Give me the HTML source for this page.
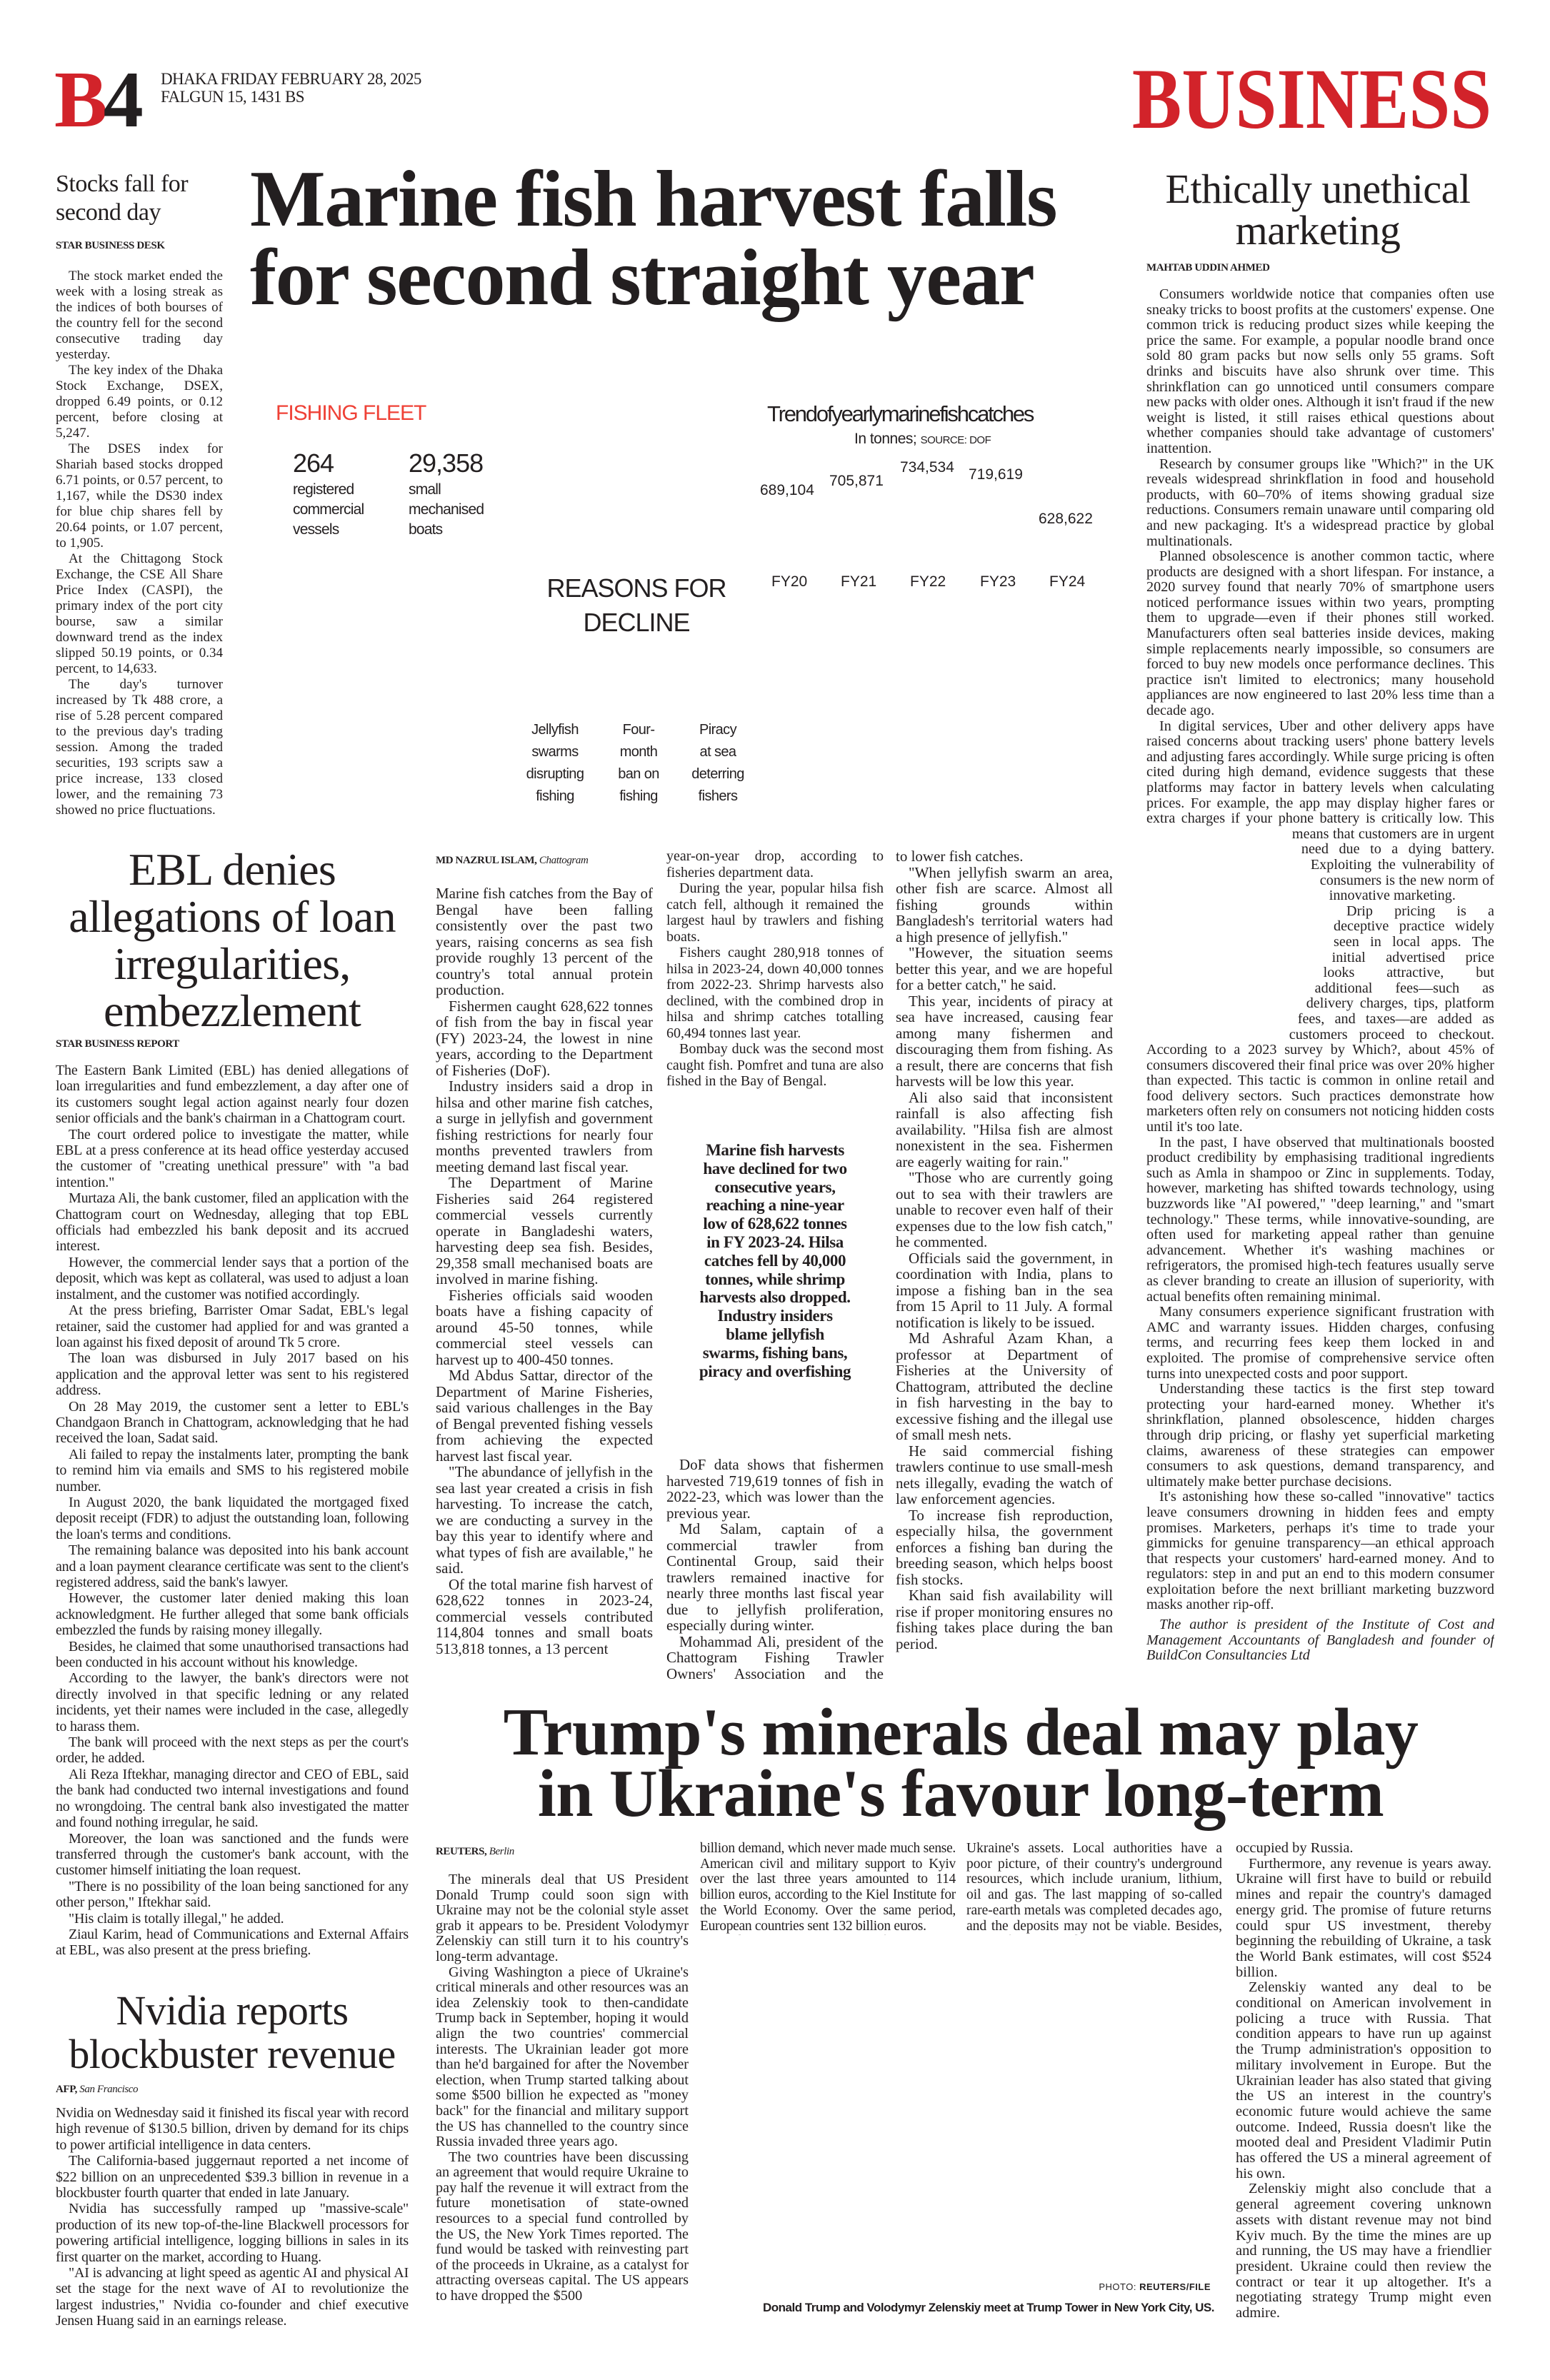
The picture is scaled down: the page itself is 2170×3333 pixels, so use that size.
<!DOCTYPE html>
<html lang="en"><head><meta charset="utf-8">
<style>
*{margin:0;padding:0;box-sizing:border-box}
html,body{width:2170px;height:3333px;background:#fff;overflow:hidden}
body{position:relative;color:#231f20;font-family:"Liberation Serif",serif}
.a{position:absolute}
.b{position:absolute;font:20px/22.5px "Liberation Serif",serif;text-align:justify;hyphens:auto;overflow:hidden;color:#231f20}
.b p{margin:0;text-indent:18px}
.m{font-size:21px}
.by{position:absolute;font:bold 15px/18px "Liberation Serif",serif;letter-spacing:-0.4px;white-space:nowrap}
.by i{font-weight:normal}
.s{font-family:"Liberation Sans",sans-serif;color:#231f20;white-space:nowrap;position:absolute}
</style></head><body>

<!-- header -->
<div class="a" style="left:76px;top:84px;font:bold 112px/1 'Liberation Serif',serif;letter-spacing:-6px;white-space:nowrap"><span style="color:#d2232a">B</span>4</div>
<div class="a" style="left:225px;top:98px;font:23px/25px 'Liberation Serif',serif;letter-spacing:-0.6px;white-space:nowrap">DHAKA FRIDAY FEBRUARY 28, 2025<br>FALGUN 15, 1431 BS</div>
<div class="a" style="right:82px;top:79px;font:bold 121px/1 'Liberation Serif',serif;color:#d2232a;transform:scaleX(0.86);transform-origin:right;white-space:nowrap">BUSINESS</div>

<!-- Stocks -->
<div class="a" style="left:78px;top:238px;font:34px/40px 'Liberation Serif',serif;letter-spacing:-0.5px;white-space:nowrap">Stocks fall for<br>second day</div>
<div class="by" style="left:78px;top:335px">STAR BUSINESS DESK</div>
<div class="b" style="left:78px;top:376px;width:234px;height:780px;font-size:19px;line-height:22px">
<p>The stock market ended the week with a losing streak as the indices of both bourses of the country fell for the second consecutive trading day yesterday.</p>
<p>The key index of the Dhaka Stock Exchange, DSEX, dropped 6.49 points, or 0.12 percent, before closing at 5,247.</p>
<p>The DSES index for Shariah based stocks dropped 6.71 points, or 0.57 percent, to 1,167, while the DS30 index for blue chip shares fell by 20.64 points, or 1.07 percent, to 1,905.</p>
<p>At the Chittagong Stock Exchange, the CSE All Share Price Index (CASPI), the primary index of the port city bourse, saw a similar downward trend as the index slipped 50.19 points, or 0.34 percent, to 14,633.</p>
<p>The day's turnover increased by Tk 488 crore, a rise of 5.28 percent compared to the previous day's trading session. Among the traded securities, 193 scripts saw a price increase, 133 closed lower, and the remaining 73 showed no price fluctuations.</p>
</div>

<!-- Marine headline -->
<div class="a" style="left:350px;top:224px;font:bold 112px/110px 'Liberation Serif',serif;letter-spacing:-1.5px;white-space:nowrap">Marine fish harvest falls<br>for second straight year</div>

<!-- infographic -->
<div class="s" style="left:386px;top:562px;font-size:30px;color:#ef4136;letter-spacing:-1px">FISHING FLEET</div>
<div class="s" style="left:410px;top:628px;font-size:36px;letter-spacing:-1px">264</div>
<div class="s" style="left:572px;top:628px;font-size:36px;letter-spacing:-1px">29,358</div>
<div class="s" style="left:410px;top:672px;font-size:21px;line-height:28px;letter-spacing:-0.8px">registered<br>commercial<br>vessels</div>
<div class="s" style="left:572px;top:672px;font-size:21px;line-height:28px;letter-spacing:-0.8px">small<br>mechanised<br>boats</div>
<div class="s" style="left:1074px;top:562px;font-size:31px;letter-spacing:-2.2px">Trendofyearlymarinefishcatches</div>
<div class="s" style="left:1196px;top:603px;font-size:21px;letter-spacing:-0.5px">In tonnes; <span style="font-size:15px">SOURCE: DOF</span></div>
<div class="s" style="left:1064px;top:675px;font-size:21px">689,104</div>
<div class="s" style="left:1161px;top:662px;font-size:21px">705,871</div>
<div class="s" style="left:1260px;top:643px;font-size:21px">734,534</div>
<div class="s" style="left:1356px;top:653px;font-size:21px">719,619</div>
<div class="s" style="left:1454px;top:715px;font-size:21px">628,622</div>
<div class="s" style="left:1080px;top:803px;font-size:21px">FY20</div>
<div class="s" style="left:1177px;top:803px;font-size:21px">FY21</div>
<div class="s" style="left:1274px;top:803px;font-size:21px">FY22</div>
<div class="s" style="left:1372px;top:803px;font-size:21px">FY23</div>
<div class="s" style="left:1469px;top:803px;font-size:21px">FY24</div>
<div class="s" style="left:741px;top:800px;width:300px;text-align:center;font-size:36px;line-height:48px;letter-spacing:-1px">REASONS FOR<br>DECLINE</div>
<div class="s" style="left:717px;top:1007px;width:120px;text-align:center;font-size:20px;line-height:31px;letter-spacing:-0.6px">Jellyfish<br>swarms<br>disrupting<br>fishing</div>
<div class="s" style="left:834px;top:1007px;width:120px;text-align:center;font-size:20px;line-height:31px;letter-spacing:-0.6px">Four-<br>month<br>ban on<br>fishing</div>
<div class="s" style="left:945px;top:1007px;width:120px;text-align:center;font-size:20px;line-height:31px;letter-spacing:-0.6px">Piracy<br>at sea<br>deterring<br>fishers</div>

<!-- Marine body -->
<div class="by" style="left:610px;top:1196px">MD NAZRUL ISLAM, <i>Chattogram</i></div>
<div class="b m" style="left:610px;top:1240px;width:304px;height:1115px">
<p style="text-indent:0">Marine fish catches from the Bay of Bengal have been falling consistently over the past two years, raising concerns as sea fish provide roughly 13 percent of the country's total annual protein production.</p>
<p>Fishermen caught 628,622 tonnes of fish from the bay in fiscal year (FY) 2023-24, the lowest in nine years, according to the Department of Fisheries (DoF).</p>
<p>Industry insiders said a drop in hilsa and other marine fish catches, a surge in jellyfish and government fishing restrictions for nearly four months prevented trawlers from meeting demand last fiscal year.</p>
<p>The Department of Marine Fisheries said 264 registered commercial vessels currently operate in Bangladeshi waters, harvesting deep sea fish. Besides, 29,358 small mechanised boats are involved in marine fishing.</p>
<p>Fisheries officials said wooden boats have a fishing capacity of around 45-50 tonnes, while commercial steel vessels can harvest up to 400-450 tonnes.</p>
<p>Md Abdus Sattar, director of the Department of Marine Fisheries, said various challenges in the Bay of Bengal prevented fishing vessels from achieving the expected harvest last fiscal year.</p>
<p>"The abundance of jellyfish in the sea last year created a crisis in fish harvesting. To increase the catch, we are conducting a survey in the bay this year to identify where and what types of fish are available," he said.</p>
<p>Of the total marine fish harvest of 628,622 tonnes in 2023-24, commercial vessels contributed 114,804 tonnes and small boats 513,818 tonnes, a 13 percent</p>
</div>
<div class="b" style="left:933px;top:1188px;width:304px;height:340px">
<p style="text-indent:0">year-on-year drop, according to fisheries department data.</p>
<p>During the year, popular hilsa fish catch fell, although it remained the largest haul by trawlers and fishing boats.</p>
<p>Fishers caught 280,918 tonnes of hilsa in 2023-24, down 40,000 tonnes from 2022-23. Shrimp harvests also declined, with the combined drop in hilsa and shrimp catches totalling 60,494 tonnes last year.</p>
<p>Bombay duck was the second most caught fish. Pomfret and tuna are also fished in the Bay of Bengal.</p>
</div>
<div class="a" style="left:945px;top:1598px;width:280px;text-align:center;font:bold 23px/25.8px 'Liberation Serif',serif;letter-spacing:-0.4px;white-space:nowrap">Marine fish harvests<br>have declined for two<br>consecutive years,<br>reaching a nine-year<br>low of 628,622 tonnes<br>in FY 2023-24. Hilsa<br>catches fell by 40,000<br>tonnes, while shrimp<br>harvests also dropped.<br>Industry insiders<br>blame jellyfish<br>swarms, fishing bans,<br>piracy and overfishing</div>
<div class="b m" style="left:933px;top:2040px;width:304px;height:315px">
<p>DoF data shows that fishermen harvested 719,619 tonnes of fish in 2022-23, which was lower than the previous year.</p>
<p>Md Salam, captain of a commercial trawler from Continental Group, said their trawlers remained inactive for nearly three months last fiscal year due to jellyfish proliferation, especially during winter.</p>
<p>Mohammad Ali, president of the Chattogram Fishing Trawler Owners' Association and the Fishery Ghat Traders' Association, said the high presence of jellyfish affected fishing activities, leading</p>
</div>
<div class="b m" style="left:1254px;top:1188px;width:304px;height:1167px">
<p style="text-indent:0">to lower fish catches.</p>
<p>"When jellyfish swarm an area, other fish are scarce. Almost all fishing grounds within Bangladesh's territorial waters had a high presence of jellyfish."</p>
<p>"However, the situation seems better this year, and we are hopeful for a better catch," he said.</p>
<p>This year, incidents of piracy at sea have increased, causing fear among many fishermen and discouraging them from fishing. As a result, there are concerns that fish harvests will be low this year.</p>
<p>Ali also said that inconsistent rainfall is also affecting fish availability. "Hilsa fish are almost nonexistent in the sea. Fishermen are eagerly waiting for rain."</p>
<p>"Those who are currently going out to sea with their trawlers are unable to recover even half of their expenses due to the low fish catch," he commented.</p>
<p>Officials said the government, in coordination with India, plans to impose a fishing ban in the sea from 15 April to 11 July. A formal notification is likely to be issued.</p>
<p>Md Ashraful Azam Khan, a professor at Department of Fisheries at the University of Chattogram, attributed the decline in fish harvesting in the bay to excessive fishing and the illegal use of small mesh nets.</p>
<p>He said commercial fishing trawlers continue to use small-mesh nets illegally, evading the watch of law enforcement agencies.</p>
<p>To increase fish reproduction, especially hilsa, the government enforces a fishing ban during the breeding season, which helps boost fish stocks.</p>
<p>Khan said fish availability will rise if proper monitoring ensures no fishing takes place during the ban period.</p>
</div>

<!-- Ethically -->
<div class="a" style="left:1600px;top:236px;width:490px;text-align:center;font:58px/58px 'Liberation Serif',serif;letter-spacing:-0.5px">Ethically unethical<br>marketing</div>
<div class="by" style="left:1605px;top:366px">MAHTAB UDDIN AHMED</div>
<div class="b" style="left:1605px;top:402px;width:487px;height:1935px;font-size:20.2px;line-height:21.6px">
<p>Consumers worldwide notice that companies often use sneaky tricks to boost profits at the customers' expense. One common trick is reducing product sizes while keeping the price the same. For example, a popular noodle brand once sold 80 gram packs but now sells only 55 grams. Soft drinks and biscuits have also shrunk over time. This shrinkflation can go unnoticed until consumers compare new packs with older ones. Although it isn't fraud if the new weight is listed, it still raises ethical questions about whether companies should take advantage of customers' inattention.</p>
<p>Research by consumer groups like "Which?" in the UK reveals widespread shrinkflation in food and household products, with 60–70% of items showing gradual size reductions. Consumers remain unaware until comparing old and new packaging. It's a widespread practice by global multinationals.</p>
<p>Planned obsolescence is another common tactic, where products are designed with a short lifespan. For instance, a 2020 survey found that nearly 70% of smartphone users noticed performance issues within two years, prompting them to upgrade—even if their phones still worked. Manufacturers often seal batteries inside devices, making simple replacements nearly impossible, so consumers are forced to buy new models once performance declines. This practice isn't limited to electronics; many household appliances are now engineered to last 20% less time than a decade ago.</p>
<p>In digital services, Uber and other delivery apps have raised concerns about tracking users' phone battery levels and adjusting fares accordingly. While surge pricing is often cited during high demand, evidence suggests that these platforms may factor in battery levels when calculating prices. For example, the app may display higher fares or extra charges if your phone <span style="float:left;width:265px;height:320px;shape-outside:polygon(0 0,178px 0,262px 140px,262px 190px,190px 320px,0 320px)"></span>battery is critically low. This means that customers are in urgent need due to a dying battery. Exploiting the vulnerability of consumers is the new norm of innovative marketing.</p>
<p>Drip pricing is a deceptive practice widely seen in local apps. The initial advertised price looks attractive, but additional fees—such as delivery charges, tips, platform fees, and taxes—are added as customers proceed to checkout. According to a 2023 survey by Which?, about 45% of consumers discovered their final price was over 20% higher than expected. This tactic is common in online retail and food delivery sectors. Such practices demonstrate how marketers often rely on consumers not noticing hidden costs until it's too late.</p>
<p>In the past, I have observed that multinationals boosted product credibility by emphasising traditional ingredients such as Amla in shampoo or Zinc in supplements. Today, however, marketing has shifted towards technology, using buzzwords like "AI powered," "deep learning," and "smart technology." These terms, while innovative-sounding, are often used for marketing appeal rather than genuine advancement. Whether it's washing machines or refrigerators, the promised high-tech features usually serve as clever branding to create an illusion of superiority, with actual benefits often remaining minimal.</p>
<p>Many consumers experience significant frustration with AMC and warranty issues. Hidden charges, confusing terms, and recurring fees keep them locked in and exploited. The promise of comprehensive service often turns into unexpected costs and poor support.</p>
<p>Understanding these tactics is the first step toward protecting your hard-earned money. Whether it's shrinkflation, planned obsolescence, hidden charges through drip pricing, or flashy yet superficial marketing claims, awareness of these strategies can empower consumers to ask questions, demand transparency, and ultimately make better purchase decisions.</p>
<p>It's astonishing how these so-called "innovative" tactics leave consumers drowning in hidden fees and empty promises. Marketers, perhaps it's time to trade your gimmicks for genuine transparency—an ethical approach that respects your customers' hard-earned money. And to regulators: step in and put an end to this modern consumer exploitation before the next brilliant marketing buzzword masks another rip-off.</p>
<p style="font-style:italic;margin-top:6px">The author is president of the Institute of Cost and Management Accountants of Bangladesh and founder of BuildCon Consultancies Ltd</p>
</div>

<!-- EBL -->
<div class="a" style="left:78px;top:1185px;width:494px;text-align:center;font:64px/66px 'Liberation Serif',serif;letter-spacing:-0.8px;white-space:nowrap">EBL denies<br>allegations of loan<br>irregularities,<br>embezzlement</div>
<div class="by" style="left:78px;top:1453px">STAR BUSINESS REPORT</div>
<div class="b" style="left:78px;top:1488px;width:494px;height:1270px;font-size:20px;line-height:22.4px;letter-spacing:-0.2px">
<p style="text-indent:0">The Eastern Bank Limited (EBL) has denied allegations of loan irregularities and fund embezzlement, a day after one of its customers sought legal action against nearly four dozen senior officials and the bank's chairman in a Chattogram court.</p>
<p>The court ordered police to investigate the matter, while EBL at a press conference at its head office yesterday accused the customer of "creating unethical pressure" with "a bad intention."</p>
<p>Murtaza Ali, the bank customer, filed an application with the Chattogram court on Wednesday, alleging that top EBL officials had embezzled his bank deposit and its accrued interest.</p>
<p>However, the commercial lender says that a portion of the deposit, which was kept as collateral, was used to adjust a loan instalment, and the customer was notified accordingly.</p>
<p>At the press briefing, Barrister Omar Sadat, EBL's legal retainer, said the customer had applied for and was granted a loan against his fixed deposit of around Tk 5 crore.</p>
<p>The loan was disbursed in July 2017 based on his application and the approval letter was sent to his registered address.</p>
<p>On 28 May 2019, the customer sent a letter to EBL's Chandgaon Branch in Chattogram, acknowledging that he had received the loan, Sadat said.</p>
<p>Ali failed to repay the instalments later, prompting the bank to remind him via emails and SMS to his registered mobile number.</p>
<p>In August 2020, the bank liquidated the mortgaged fixed deposit receipt (FDR) to adjust the outstanding loan, following the loan's terms and conditions.</p>
<p>The remaining balance was deposited into his bank account and a loan payment clearance certificate was sent to the client's registered address, said the bank's lawyer.</p>
<p>However, the customer later denied making this loan acknowledgment. He further alleged that some bank officials embezzled the funds by raising money illegally.</p>
<p>Besides, he claimed that some unauthorised transactions had been conducted in his account without his knowledge.</p>
<p>According to the lawyer, the bank's directors were not directly involved in that specific ledning or any related incidents, yet their names were included in the case, allegedly to harass them.</p>
<p>The bank will proceed with the next steps as per the court's order, he added.</p>
<p>Ali Reza Iftekhar, managing director and CEO of EBL, said the bank had conducted two internal investigations and found no wrongdoing. The central bank also investigated the matter and found nothing irregular, he said.</p>
<p>Moreover, the loan was sanctioned and the funds were transferred through the customer's bank account, with the customer himself initiating the loan request.</p>
<p>"There is no possibility of the loan being sanctioned for any other person," Iftekhar said.</p>
<p>"His claim is totally illegal," he added.</p>
<p>Ziaul Karim, head of Communications and External Affairs at EBL, was also present at the press briefing.</p>
</div>

<!-- Nvidia -->
<div class="a" style="left:78px;top:2785px;width:494px;text-align:center;font:58px/61px 'Liberation Serif',serif;letter-spacing:-0.6px;white-space:nowrap">Nvidia reports<br>blockbuster revenue</div>
<div class="by" style="left:78px;top:2917px">AFP, <i>San Francisco</i></div>
<div class="b" style="left:78px;top:2948px;width:494px;height:335px;font-size:20px;line-height:22.4px;letter-spacing:-0.2px">
<p style="text-indent:0">Nvidia on Wednesday said it finished its fiscal year with record high revenue of $130.5 billion, driven by demand for its chips to power artificial intelligence in data centers.</p>
<p>The California-based juggernaut reported a net income of $22 billion on an unprecedented $39.3 billion in revenue in a blockbuster fourth quarter that ended in late January.</p>
<p>Nvidia has successfully ramped up "massive-scale" production of its new top-of-the-line Blackwell processors for powering artificial intelligence, logging billions in sales in its first quarter on the market, according to Huang.</p>
<p>"AI is advancing at light speed as agentic AI and physical AI set the stage for the next wave of AI to revolutionize the largest industries," Nvidia co-founder and chief executive Jensen Huang said in an earnings release.</p>
</div>

<!-- Trump -->
<div class="a" style="left:600px;top:2383px;width:1490px;text-align:center;font:bold 94px/86px 'Liberation Serif',serif;letter-spacing:-0.6px;white-space:nowrap">Trump's minerals deal may play<br>in Ukraine's favour long-term</div>
<div class="by" style="left:610px;top:2584px">REUTERS, <i>Berlin</i></div>
<div class="b" style="left:610px;top:2622px;width:354px;height:630px;font-size:20.2px;line-height:21.6px">
<p>The minerals deal that US President Donald Trump could soon sign with Ukraine may not be the colonial style asset grab it appears to be. President Volodymyr Zelenskiy can still turn it to his country's long-term advantage.</p>
<p>Giving Washington a piece of Ukraine's critical minerals and other resources was an idea Zelenskiy took to then-candidate Trump back in September, hoping it would align the two countries' commercial interests. The Ukrainian leader got more than he'd bargained for after the November election, when Trump started talking about some $500 billion he expected as "money back" for the financial and military support the US has channelled to the country since Russia invaded three years ago.</p>
<p>The two countries have been discussing an agreement that would require Ukraine to pay half the revenue it will extract from the future monetisation of state-owned resources to a special fund controlled by the US, the New York Times reported. The fund would be tasked with reinvesting part of the proceeds in Ukraine, as a catalyst for attracting overseas capital. The US appears to have dropped the $500</p>
</div>
<div class="b" style="left:980px;top:2578px;width:358px;height:132px;font-size:19.5px;line-height:21.7px;letter-spacing:-0.3px">
<p style="text-indent:0">billion demand, which never made much sense. American civil and military support to Kyiv over the last three years amounted to 114 billion euros, according to the Kiel Institute for the World Economy. Over the same period, European countries sent 132 billion euros.</p>
<p>One big unknown is the scale of</p>
</div>
<div class="b" style="left:1353px;top:2578px;width:358px;height:132px;font-size:19.5px;line-height:21.7px">
<p style="text-indent:0">Ukraine's assets. Local authorities have a poor picture, of their country's underground resources, which include uranium, lithium, oil and gas. The last mapping of so-called rare-earth metals was completed decades ago, and the deposits may not be viable. Besides, some of the coveted elements are in territory</p>
</div>
<div class="b" style="left:1730px;top:2578px;width:358px;height:668px;font-size:20.5px;line-height:21.7px">
<p style="text-indent:0">occupied by Russia.</p>
<p>Furthermore, any revenue is years away. Ukraine will first have to build or rebuild mines and repair the country's damaged energy grid. The promise of future returns could spur US investment, thereby beginning the rebuilding of Ukraine, a task the World Bank estimates, will cost $524 billion.</p>
<p>Zelenskiy wanted any deal to be conditional on American involvement in policing a truce with Russia. That condition appears to have run up against the Trump administration's opposition to military involvement in Europe. But the Ukrainian leader has also stated that giving the US an interest in the country's economic future would achieve the same outcome. Indeed, Russia doesn't like the mooted deal and President Vladimir Putin has offered the US a mineral agreement of his own.</p>
<p>Zelenskiy might also conclude that a general agreement covering unknown assets with distant revenue may not bind Kyiv much. By the time the mines are up and running, the US may have a friendlier president. Ukraine could then review the contract or tear it up altogether. It's a negotiating strategy Trump might even admire.</p>
</div>
<div class="s" style="left:1400px;top:3195px;width:295px;text-align:right;font-size:13px;letter-spacing:0.5px">PHOTO: <b>REUTERS/FILE</b></div>
<div class="s" style="left:990px;top:3222px;width:710px;text-align:right;font-size:17px;font-weight:bold;letter-spacing:-0.5px">Donald Trump and Volodymyr Zelenskiy meet at Trump Tower in New York City, US.</div>

</body></html>
